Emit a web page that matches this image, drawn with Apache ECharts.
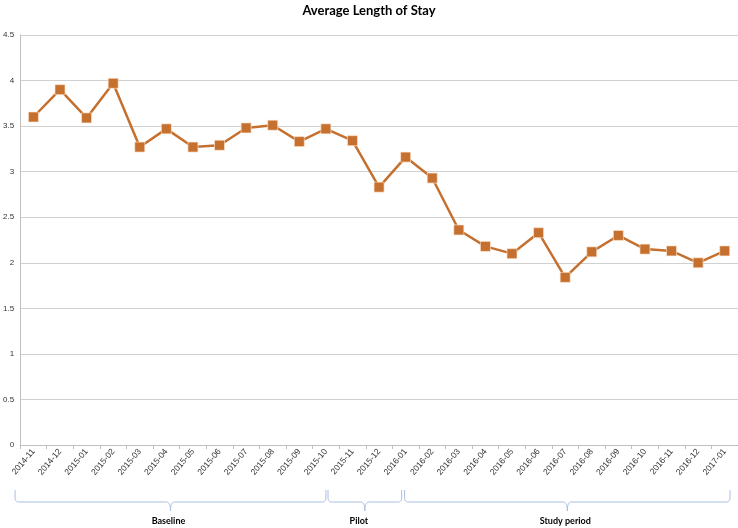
<!DOCTYPE html>
<html>
<head>
<meta charset="utf-8">
<script src="https://cdn.jsdelivr.net/npm/echarts@6/dist/echarts.min.js"></script>
<style>html,body{margin:0;padding:0;background:#fff}#c{width:738px;height:528px}</style>
</head>
<body>
<div id="c"></div>
<script>
const categories = ["2014-11","2014-12","2015-01","2015-02","2015-03","2015-04","2015-05","2015-06","2015-07","2015-08","2015-09","2015-10","2015-11","2015-12","2016-01","2016-02","2016-03","2016-04","2016-05","2016-06","2016-07","2016-08","2016-09","2016-10","2016-11","2016-12","2017-01"];
const stayValues = [3.60,3.90,3.59,3.97,3.27,3.47,3.27,3.29,3.48,3.51,3.33,3.47,3.34,2.83,3.16,2.93,2.36,2.18,2.10,2.33,1.84,2.12,2.30,2.15,2.13,2.00,2.13];
const yTicks = [0,0.5,1,1.5,2,2.5,3,3.5,4,4.5];
// periods: label, start boundary, end boundary (in category units)
const periodNames = ["Baseline","Pilot","Study period"];
const periodStart = [-0.19, 11.58, 14.46];
const periodEnd = [11.5, 14.35, 26.7];

const chart = echarts.init(document.getElementById('c'));
const option = {
  animation: false,
  title: {
    text: 'Average Length of Stay',
    left: 'center', top: -1,
    textStyle: {fontFamily: 'Lato', fontWeight: 'bold', fontSize: 13, color: '#000'}
  },
  grid: {left: 18, right: 0, top: 35, bottom: 83, containLabel: false},
  xAxis: {
    type: 'category',
    data: categories,
    boundaryGap: true,
    axisLine: {lineStyle: {color: '#bfbfbf'}},
    axisTick: {show: true, length: 4, lineStyle: {color: '#bfbfbf'}},
    axisLabel: {rotate: 50, fontSize: 8.5, margin: 5, color: '#333', fontFamily: 'Liberation Sans', interval: 0}
  },
  yAxis: {
    type: 'value',
    min: yTicks[0], max: yTicks[yTicks.length-1], interval: 0.5,
    axisLine: {show: true, lineStyle: {color: '#bfbfbf'}},
    axisTick: {show: false},
    splitLine: {lineStyle: {color: '#d0d0d0'}},
    axisLabel: {fontSize: 8, margin: 6, color: '#333', fontFamily: 'Liberation Sans'}
  },
  series: [{
    type: 'line',
    data: stayValues,
    symbol: 'rect',
    symbolSize: 10,
    lineStyle: {color: '#C5702F', width: 2.5},
    itemStyle: {color: '#C5702F', borderColor: 'rgba(255,230,210,0.8)', borderWidth: 0.8}
  }]
};
chart.setOption(option);

function quad(pts, p0, p1, p2) {
  for (let t = 1; t <= 8; t++) {
    const s = t / 8;
    pts.push([
      (1-s)*(1-s)*p0[0] + 2*(1-s)*s*p1[0] + s*s*p2[0],
      (1-s)*(1-s)*p0[1] + 2*(1-s)*s*p1[1] + s*s*p2[1]
    ]);
  }
}
function bracePoints(x1, x2, xm, y0, y1, y2) {
  const r = 4;
  const pts = [[x1, y0], [x1, y1 - r]];
  quad(pts, [x1, y1 - r], [x1, y1], [x1 + r, y1]);
  pts.push([xm - r, y1]);
  quad(pts, [xm - r, y1], [xm, y1], [xm, y2]);
  quad(pts, [xm, y2], [xm, y1], [xm + r, y1]);
  pts.push([x2 - r, y1]);
  quad(pts, [x2 - r, y1], [x2, y1], [x2, y1 - r]);
  pts.push([x2, y0]);
  return pts;
}
const c0 = chart.convertToPixel({xAxisIndex: 0}, categories[0]);
const c1 = chart.convertToPixel({xAxisIndex: 0}, categories[1]);
const w = c1 - c0;
const toPx = b => c0 + (b - 0.5) * w;
const graphics = [];
periodNames.forEach((name, i) => {
  const x1 = toPx(periodStart[i]);
  const x2 = toPx(periodEnd[i]);
  const xm = (x1 + x2) / 2;
  graphics.push({
    type: 'polyline',
    shape: {points: bracePoints(x1, x2, xm, 490, 502, 511)},
    style: {fill: null, stroke: '#a9bde3', lineWidth: 1}
  });
  graphics.push({
    type: 'text',
    x: xm - (i === 1 ? 6 : 2), y: 521,
    style: {text: name, fontFamily: 'Lato', fontWeight: 'bold', fontSize: 9, fill: '#000', align: 'center', verticalAlign: 'middle'}
  });
});
chart.setOption({graphic: graphics});
</script>
</body>
</html>
